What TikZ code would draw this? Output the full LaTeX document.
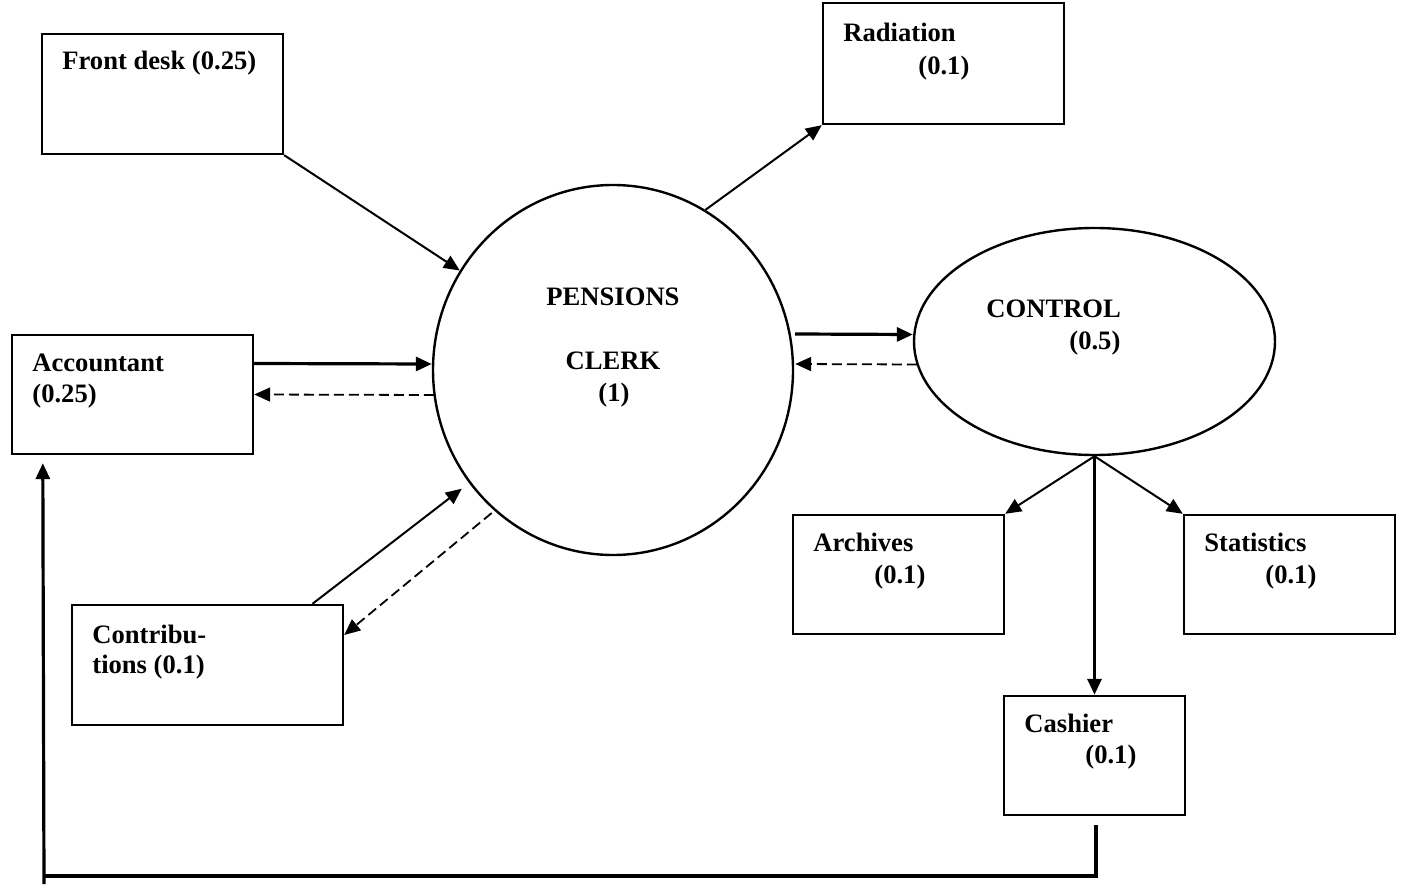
\documentclass[tikz,border=0pt]{standalone}
\usepackage{fontspec}
\setmainfont{Liberation Serif}
\usetikzlibrary{arrows.meta,calc,shapes.geometric}
\begin{document}
\begin{tikzpicture}[x=0.5pt,y=-0.5pt,
  box/.style={draw,line width=1.2pt,rectangle,inner sep=0pt},
  bubble/.style={draw,line width=1.2pt,ellipse,inner sep=0pt},
  lbl/.style={anchor=base west,inner sep=0pt,font=\fontsize{13.3}{15}\selectfont\bfseries},
  clbl/.style={anchor=base,inner sep=0pt,font=\fontsize{13.3}{15}\selectfont\bfseries},
  tip/.style={-{Triangle[length=8pt,width=7pt]}},
  flow/.style={tip,line width=1pt},
  mainflow/.style={tip,line width=1.6pt},
  reply/.style={tip,line width=0.9pt,dash pattern=on 5pt off 2.5pt}]
\useasboundingbox (0,0) rectangle (1403,887);

% process bubbles
\node[bubble,minimum width=180pt,minimum height=185pt] (pen) at (613,370) {};
\node[bubble,minimum width=180.5pt,minimum height=113.5pt] (ctl) at (1094.5,341.5) {};

% external units
\node[box,minimum width=120.5pt,minimum height=60pt] (fd) at (162.5,94) {};
\node[box,minimum width=120.5pt,minimum height=60.5pt] (rad) at (943.5,63.5) {};
\node[box,minimum width=120.5pt,minimum height=59.5pt] (acc) at (132.5,394.5) {};
\node[box,minimum width=135.5pt,minimum height=60pt] (con) at (207.5,665) {};
\node[box,minimum width=105.5pt,minimum height=59.5pt] (arc) at (898.5,574.5) {};
\node[box,minimum width=105.5pt,minimum height=59.5pt] (sta) at (1289.5,574.5) {};
\node[box,minimum width=90.5pt,minimum height=59.5pt] (cash) at (1094.5,755.5) {};

% labels
\node[clbl] (penA) at (613,306) {PENSIONS};
\node[clbl] (penB) at (613,370) {CLERK};
\node[clbl] (penC) at (614,402) {(1)};
\node[lbl] (ctlA) at (986,318) {CONTROL};
\node[lbl] (ctlB) at (1069,350) {(0.5)};
\node[lbl] (fdA) at (62,70) {Front desk (0.25)};
\node[lbl] (radA) at (843,42) {Radiation};
\node[lbl] (radB) at (918,75) {(0.1)};
\node[lbl] (accA) at (32,372) {Accountant};
\node[lbl] (accB) at (32,403) {(0.25)};
\node[lbl] (conA) at (92,643) {Contribu-};
\node[lbl] (conB) at (92,673) {tions (0.1)};
\node[lbl] (arcA) at (813,552) {Archives};
\node[lbl] (arcB) at (874,583) {(0.1)};
\node[lbl] (staA) at (1204,552) {Statistics};
\node[lbl] (staB) at (1265,583) {(0.1)};
\node[lbl] (cashA) at (1024,732) {Cashier};
\node[lbl] (cashB) at (1085,763) {(0.1)};

% flows around the pensions clerk
\draw[flow] (fd.south east) -- (pen.147);
\draw[flow] (pen.60) -- (rad.south west);
\draw[mainflow] ($(acc.east)+(0,-31)$) -- ($(pen.west)+(0,-6)$);
\draw[reply] ($(pen.west)+(2,25)$) -- (acc.east);
\draw[flow] ($(con.north)+(105,0)$) -- ($(pen.218)+(-7,6)$);
\draw[reply] ($(pen.230)+(-3,2)$) -- ($(con.east)+(0,-30)$);
\draw[mainflow] ($(pen.east)+(1,-36)$) -- ($(ctl.west)+(0,-7)$);
\draw[reply] ($(ctl.west)+(4,23)$) -- ($(pen.east)+(1,-6)$);

% flows out of control
\draw[flow] (ctl.south) -- (arc.north east);
\draw[flow] (ctl.south) -- (sta.north west);
\draw[mainflow] (ctl.south) -- (cash.north);

% return path from the cashier to the accountant
\coordinate (ret) at (44,884);
\draw[line width=2pt] ($(cash.south)+(1,9)$) |- ($(ret)+(0,-8)$);
\draw[mainflow] (ret) -- ($(acc.south west)+(32,8)$);
\end{tikzpicture}
\end{document}
